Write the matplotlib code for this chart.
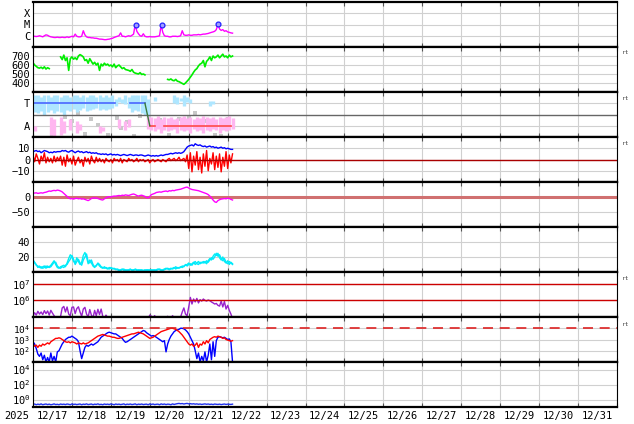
import numpy as np
import matplotlib
matplotlib.use("Agg")
import matplotlib.pyplot as plt
import matplotlib.dates as mdates
import matplotlib.transforms as mtransforms
from datetime import datetime

plt.rcParams['font.family'] = 'DejaVu Sans Mono'
plt.rcParams['mathtext.fontset'] = 'custom'
plt.rcParams['mathtext.rm'] = 'DejaVu Sans Mono'
plt.rcParams['mathtext.it'] = 'DejaVu Sans Mono'
plt.rcParams['mathtext.bf'] = 'DejaVu Sans Mono'

# hourly samples starting 2025-12-16 00:00
n_hours = 124
nan = np.nan

# X-ray flux, units of 1e-7 W/m2
xray = [9, 9, 8.5, 9, 10, 9, 8, 10, 12, 11, 9,
        8, 7.5, 7, 7, 7.5, 7, 7, 7.5, 7, 7, 8, 7,
        8, 9, 8, 14, 9, 8, 8, 9, 28, 12,
        8, 7, 7, 6.5, 6.5, 6, 6, 5.5,
        5, 5, 4.8, 4.5, 4.5, 4.8, 5, 5.5, 6, 7,
        8, 9, 10, 18, 9, 9, 8, 9, 10, 9, 11, 14, 100, 25,
        15, 10, 9, 15, 9, 8, 8, 8.5, 8, 8, 8, 8.5, 9, 10, 95, 20,
        10, 9, 9, 8, 8, 9, 9, 9, 8.5, 9, 10, 28, 12,
        11, 11, 12, 11, 11, 12, 12, 12, 13, 12, 13, 14, 14, 15, 16,
        18, 20, 22, 25, 35, 110, 40, 30, 35, 25, 28, 22, 20, 18, 17]
flare_hours = [63.5, 79.5, 114]
flare_flux = [1.0e-5, 1.0e-5, 1.1e-5]

# solar wind speed km/s
speed = [625, 600, 585, 570, 565, 575, 560, 580, 555, 570, 560,
         nan, nan, nan, nan, nan, nan,
         690, 660, 710, 650, 680, 540, 670, 690, 665, 680, 660, 700,
         715, 705, 690, 650, 660, 620, 670, 640, 610,
         630, 600, 620, 540, 610, 590, 620, 600, 610, 590,
         600, 580, 610, 570, 590, 600, 580, 560, 570, 550,
         545, 540, 530, 550, 520, 510, 505, 500, 515, 495, 500, 490,
         nan, nan, nan, nan, nan, nan, nan, nan, nan, nan, nan, nan, nan,
         440, 435, 445, 430, 425, 440, 420, 415, 405, 395, 385,
         400, 420, 440, 465, 490, 520, 545, 560, 590, 610,
         620, 650, 580, 640, 660, 690, 650, 700, 680,
         690, 710, 680, 700, 720, 690, 700, 680, 710, 690, 700]

# sector panel, 2-hour bins; T = +0.5, A = -0.5
blue_top = [.85, .85, .8, .85, .85, .8, .85, .85, .8, .85,
            .85, .8, .85, .85, .8, .85, .8, .85, .85, .8, .85, .8,
            .85, .8, .85, .7, .8, .7, .85, .8, .85, .85, .85, .85, .85, .7,
            nan, .8, nan, nan, nan, nan, nan,
            .85, .8, .75, .85, .8, .7, nan, nan, nan, nan, nan, .6, .6,
            nan, nan, nan, nan, nan, nan]
blue_bot = [.1, .05, .15, 0, .1, .2, .05, .15, .1, 0,
            .2, .15, .25, .1, .2, .3, .15, .2, .25, .3, .2, .25,
            .2, .25, .3, .4, .55, .5, .45, .3, .1, .2, .15, .05, 0, -.2,
            nan, .6, nan, nan, nan, nan, nan,
            .5, .45, .6, .4, .55, .5, nan, nan, nan, nan, nan, .4, .45,
            nan, nan, nan, nan, nan, nan]
pink_top = [-.5, nan, nan, nan, nan,
            -.1, -.2, nan, -.1, -.3, nan, -.2, nan, -.3,
            -.4, nan, nan, nan, nan, nan, -.5, -.55, nan, nan, nan, nan,
            -.2, nan, -.3, -.2, nan, nan, nan, nan, nan, -.05,
            -.1, -.15, -.05, -.2, -.1, -.15, -.1, -.2, -.15, -.1, -.05, -.15, -.1,
            -.2, -.1, -.15, -.05, -.1, -.15, -.1, -.2, -.1, -.15, -.1, -.05, -.15]
pink_bot = [-.75, nan, nan, nan, nan,
            -.9, -.95, nan, -.9, -.8, nan, -.7, nan, -.8,
            -.7, nan, nan, nan, nan, nan, -.8, -.75, nan, nan, nan, nan,
            -.6, nan, -.7, -.55, nan, nan, nan, nan, nan, -.65,
            -.7, -.75, -.65, -.8, -.7, -.75, -.7, -.65, -.8, -.7, -.75, -.7, -.8,
            -.65, -.75, -.7, -.8, -.7, -.75, -.65, -.7, -.8, -.7, -.75, -.7, -.65]
gray_h = [12, 20, 24, 28, 32, 36, 40, 46, 52, 54, 58, 62, 66, 70, 72, 78, 84,
          90, 96, 100, 106, 112, 116, 120]
gray_v = [-.92, -.1, -.3, .05, -.85, -.2, -.45, -.9, -.15, -.6, -.35, -.95, -.05,
          .1, -.5, -.25, -.92, -.2, -.1, .05, -.3, -.9, -.95, -.2]
toward_spans = [(0, 50.5), (59.5, 69)]
away_spans = [(72, 75.5), (81, 122)]
flip_span = (69, 72)

# IMF Bt / Bz nT
bt = [7, 7.5, 8, 7, 7.5, 6, 7, 8, 7.5, 7, 6,
      6.5, 6, 7, 6.5, 7, 7,
      7, 8, 7.5, 8, 7, 6.5, 7.5, 8, 7, 6, 7, 7.5, 6.5, 7, 6, 6.5, 7, 6, 6.5, 5.5, 6, 5.5, 6, 5,
      5, 4.5, 5, 4.5, 5, 4, 4.5, 5, 4, 4.5, 4, 4.5, 4, 3.5, 4, 4.5, 4, 3.5, 4, 4.5, 4, 3.5, 4, 4, 3.5, 4,
      4, 3.5, 3, 3.5, 4, 3.5, 3, 3.5, 3, 3.5, 3, 3.5, 4, 3.5, 4, 4.5,
      4.5, 5, 5.5, 5, 5.5, 6, 5.5, 6, 5.5, 6, 7, 9,
      11, 12, 12.5, 13, 12, 14, 13, 12.5, 13, 12, 11.5, 12, 11, 11.5, 12, 11, 11.5, 10.5,
      11, 10, 10.5, 11, 10, 10.5, 9.5, 10, 9.5, 9, 9]
bz = [4, -2, 5, 1, -4, 3, -1, 6, -3, 2, -2,
      1, -3, 3, -2, 2, -1,
      3, -5, 2, -6, 4, -2, 1, -4, 3, -5, -1, 2, -3, 0, -6, 2, -2, 1, -4, 3, -1, -3, 2, -2,
      1, -2, 0, -3, 1, -1, -2, 0, -3, 1, -1, 0, -2, 1, -3, 0, -1, -2, 1, -1, 0, -2, -1, 1, -2, 0,
      -1, 0, -2, -1, 0, -3, -1, 0, -2, -1, 0, -1, -2, 0, -1, -2,
      0, 1, -1, 0, 1, -1, 0, 2, -1, 0, 1, -2,
      4, -8, 6, -11, 3, -5, 7, -9, 2, -12, 5, -6, 8, -10, 1, -4, 6, -9,
      3, -7, 5, -11, 2, -6, 7, -8, 4, -3, 5]

# Dst nT
dst = [14, 13, 14, 12, 13, 14, 13, 15,
       16, 18, 20, 19, 21, 22, 21, 23,
       22, 20, 17, 12, 7, 2, -3, -6, -5, -7,
       -5, -4, -6, -5, -7, -6, -8, -10, -12, -9, -5, -3, -4,
       -3, -5, -7, -9, -10, -6, -3, 0, 1, 0, 2, 3,
       3, 4, 5, 4, 6, 5, 7, 6, 5, 7, 9, 10, 8, 5,
       3, 5, 6, 4, 2, -2, -3, 2,
       8, 10, 12, 15, 16, 17, 16, 18,
       19, 20, 18, 21, 20, 22, 21, 23, 24, 25,
       26, 28, 30, 32, 33, 30, 27, 25, 24, 23,
       22, 21, 19, 17, 15, 13, 11, 8, 3, -3, -10, -16, -18,
       -12, -9, -7, -6, -5, -6, -4, -5, -8, -10]

# two cyan traces
cyan_a = [17, 12, 9, 8, 6, 7, 5, 6, 8, 6, 7,
          9, 12, 15, 10, 6, 5, 7, 8, 9, 7, 12, 18,
          23, 20, 14, 12, 19, 14, 10, 13, 22, 26, 20,
          11, 16, 12, 8, 6, 9, 11,
          8, 6, 5, 7, 5, 4, 6, 5, 4, 5,
          3, 4, 3, 2, 3, 4, 2, 3, 2, 3, 3, 2, 4, 3, 2, 3, 2, 2, 3, 2,
          2, 3, 2, 3, 2, 3, 4, 3, 2, 3, 4, 5, 4, 3, 4,
          5, 6, 4, 6, 5, 7, 6, 8, 9, 10,
          12, 9, 11, 13, 10, 12, 14, 11, 13, 12,
          14, 11, 15, 18, 16, 21, 24, 22,
          25, 19, 16, 20, 14, 12, 15, 10, 13, 11]
cyan_b = [15, 13, 10, 6, 8, 5, 7, 8, 5, 8, 6,
          7, 10, 13, 13, 8, 6, 5, 7, 6, 9, 10, 14,
          17, 22, 17, 10, 14, 17, 12, 9, 16, 20, 24,
          14, 12, 16, 10, 7, 8, 12,
          10, 7, 6, 5, 6, 5, 4, 6, 5, 4,
          4, 3, 2, 3, 4, 2, 3, 2, 3, 4, 2, 3, 3, 2, 3, 2, 3, 2, 2, 3,
          3, 2, 3, 2, 3, 2, 3, 4, 3, 2, 3, 4, 5, 4, 5,
          4, 5, 7, 5, 6, 6, 8, 7, 10, 8,
          10, 11, 9, 12, 14, 11, 10, 13, 12, 14,
          12, 15, 13, 16, 19, 17, 20, 25,
          21, 23, 18, 15, 18, 13, 11, 14, 12, 10]

# electron flux, units of 1e5
electron = [1.2, 1.8, 1.3, 2.2, 1.5, 2.0, 1.4, 2.4, 1.6, 2.3, 1.3, 2.5, 1.7, 1.2,
            0.8, 1.0, 0.9,
            1.1, 3.5, 4.3, 2.0, 4.0, 1.5, 1.2,
            3.8, 4.0, 1.6, 3.2, 4.1, 2.0, 1.1, 3.0, 3.8,
            1.5, 1.0, 2.8, 1.3, 0.9, 2.5, 1.2, 2.9,
            1.4, 3.0, 1.1, 0.8, 1.3, 0.9, 0.7, 0.6,
            0.6, 0.5, 0.6, 0.7, 0.5, 0.6, 0.8, 0.6, 0.5, 0.6, 0.7,
            0.6, 0.5, 0.6, 0.7, 0.6, 0.5, 0.6, 0.7, 0.6, 0.5, 0.6,
            0.8, 1.3, 1.1, 0.9, 1.2, 0.8, 0.7, 0.8, 0.6, 0.7,
            0.8, 0.9, 1.1, 0.8, 0.7, 1.2, 0.9, 0.8, 0.9, 0.8,
            1.0, 2.0, 3.5, 1.5, 1.2, 4.0,
            15, 6, 12, 8, 13, 7, 11, 9, 12,
            10, 9, 10.5, 9.5, 8, 7, 6, 6.5, 5, 4.5,
            9, 4, 8.5, 3, 5, 2.5, 1.5, 0.8]

# proton flux, log10
proton_blue = [2.8, 2.6, 2.2, 1.7, 1.5,
               1.8, 1.2, 1.6, 1.0, 1.4, 1.0, 1.8, 1.1, 1.5, 1.0, 1.9,
               2.0, 2.3, 2.6, 2.8, 3.0, 3.1, 3.2,
               3.2, 3.3, 3.2, 3.1, 3.0, 2.8, 2.0, 1.3,
               1.8, 2.3, 2.5, 2.4, 2.5, 2.6,
               2.5, 2.6, 2.7, 2.8, 3.0, 3.2, 3.3,
               3.4, 3.5, 3.6, 3.65, 3.6, 3.55, 3.5,
               3.5, 3.4, 3.3, 3.2, 3.1, 2.9, 2.75,
               2.8, 2.9, 3.0, 3.1, 3.2, 3.3, 3.4,
               3.5, 3.6, 3.7, 3.8, 3.75, 3.6, 3.5, 3.4,
               3.3, 3.35, 3.3, 3.2, 3.1, 3.0, 2.9, 2.8, 2.9,
               1.9, 2.6, 3.0,
               3.3, 3.5, 3.7, 3.8, 3.85, 3.9, 4.0, 4.0,
               3.95, 3.85, 3.7, 3.5, 3.2, 2.9, 2.6,
               2.0, 1.3, 1.8, 1.0, 1.5, 1.1, 1.9, 1.0, 1.6,
               2.6, 1.2, 2.8, 1.5, 2.9,
               3.2, 3.25, 3.2, 3.15, 3.2, 3.1, 3.0, 3.05, 2.8,
               1.0]
proton_red = [2.6, 2.4, 2.5, 2.3, 2.5, 2.4, 2.6, 2.5, 2.6, 2.7, 2.6,
              2.8, 2.9, 3.0, 3.1, 3.1, 3.15,
              3.1, 3.0, 2.9, 2.8, 2.75, 2.8,
              2.7, 2.8, 2.75, 2.7, 2.6, 2.7, 2.65, 2.6,
              2.7, 2.6, 2.65, 2.7, 2.8, 2.9,
              3.0, 3.1, 3.2, 3.3, 3.35, 3.4, 3.45,
              3.4, 3.35, 3.3, 3.3, 3.25, 3.2, 3.2,
              3.15, 3.1, 3.1, 3.15, 3.2, 3.25, 3.3,
              3.35, 3.4, 3.45, 3.5, 3.5, 3.55, 3.6,
              3.65, 3.6, 3.55, 3.5, 3.4, 3.3, 3.2, 3.1,
              3.15, 3.2, 3.3, 3.4, 3.5, 3.6, 3.7, 3.75, 3.8,
              3.85, 3.9, 3.95,
              4.0, 4.0, 3.95, 3.9, 3.8, 3.7, 3.55, 3.4,
              3.2, 3.0, 2.8, 2.6, 2.5, 2.6, 2.4,
              2.5, 2.7, 2.3, 2.6, 2.5, 2.8, 2.6, 2.9, 2.7,
              3.0, 3.1, 3.2, 3.25, 3.2,
              3.3, 3.25, 3.2, 3.1, 3.15, 3.0, 2.95, 2.9, 2.85,
              2.9]

# bottom panel
bottom = [0.22, 0.25, 0.2, 0.24, 0.21, 0.26, 0.2, 0.23, 0.25, 0.21,
          0.24, 0.2, 0.22, 0.26, 0.21, 0.23, 0.2, 0.25, 0.22, 0.24,
          0.21, 0.25, 0.23, 0.2, 0.26, 0.22, 0.24, 0.21, 0.23, 0.25,
          0.2, 0.24, 0.22, 0.26, 0.21, 0.23, 0.25, 0.2, 0.24, 0.22,
          0.26, 0.21, 0.23, 0.2, 0.25, 0.22, 0.24, 0.21, 0.26, 0.23,
          0.2, 0.25, 0.22, 0.24, 0.21, 0.23, 0.26, 0.2, 0.24, 0.22,
          0.25, 0.21, 0.23, 0.26, 0.2, 0.24, 0.22, 0.25, 0.21, 0.23,
          0.24, 0.2, 0.26, 0.22, 0.25, 0.21, 0.23, 0.24, 0.2, 0.26,
          0.22, 0.25, 0.21, 0.24, 0.23, 0.2, 0.26, 0.22, 0.25, 0.28,
          0.3, 0.27, 0.29, 0.25, 0.28, 0.3, 0.26, 0.28, 0.25, 0.27,
          0.24, 0.26, 0.23, 0.25, 0.22, 0.24, 0.26, 0.23, 0.25, 0.22,
          0.24, 0.21, 0.25, 0.23, 0.22, 0.24, 0.21, 0.23, 0.25, 0.22,
          0.24, 0.23, 0.22, 0.24]

day_labels = ['2025'] + ['12/%d' % d for d in range(17, 32)]

t0 = mdates.date2num(datetime(2025, 12, 16))
t = t0 + np.arange(n_hours) / 24.0
t2 = t0 + (np.arange(62) * 2 + 1) / 24.0

fig, axes = plt.subplots(9, 1, sharex=True, figsize=(6.34, 4.24), dpi=100)
fig.subplots_adjust(left=33/634, right=617/634, top=1-2/424, bottom=1-407/424, hspace=0)

grid_c = '#d0d0d0'
for ax in axes:
    ax.set_xlim(t0, t0 + 15)
    ax.set_xticks(t0 + np.arange(16))
    ax.grid(True, color=grid_c, lw=0.8)
    ax.set_axisbelow(True)
    for s in ['top', 'bottom']:
        ax.spines[s].set_linewidth(1.6)
    for s in ['left', 'right']:
        ax.spines[s].set_linewidth(0.8)
    ax.tick_params(axis='x', direction='in', length=3, top=True, color='#555555', labelbottom=False)
    ax.tick_params(axis='y', length=0, pad=2, labelsize=7.5)
    ax.tick_params(axis='y', which='minor', length=0)

# 1 x-ray
ax = axes[0]
ax.semilogy(t, np.array(xray) * 1e-7, color='#ff00ff', lw=1)
ax.plot(t0 + np.array(flare_hours) / 24, flare_flux, 'o', ms=3.5,
        mfc='#a0a0ff', mec='#2020ff', mew=0.9)
ax.set_ylim(1e-7, 1e-3)
ax.set_yticks([1e-6, 1e-5, 1e-4])
ax.set_yticklabels(['C', 'M', 'X'])
ax.yaxis.set_minor_locator(matplotlib.ticker.NullLocator())

# 2 speed
ax = axes[1]
ax.plot(t, speed, color='#00ee00', lw=1.2)
ax.set_ylim(300, 800)
ax.set_yticks([400, 500, 600, 700])

# 3 sector
ax = axes[2]
ax.vlines(t2, blue_bot, blue_top, color='#aee6ff', lw=2.4)
ax.vlines(t2, pink_bot, pink_top, color='#ffb6f0', lw=2.4)
ax.scatter(t0 + np.array(gray_h) / 24, gray_v, s=5, marker='s', color='#c8c8c8', lw=0)
ax.axhline(0, color='#666666', lw=1)
for a, b in toward_spans:
    ax.plot([t0 + a / 24, t0 + b / 24], [0.5, 0.5], color='#4a66ff', lw=1.2)
for a, b in away_spans:
    ax.plot([t0 + a / 24, t0 + b / 24], [-0.5, -0.5], color='#ff4a4a', lw=1.2)
ax.plot([t0 + flip_span[0] / 24, t0 + flip_span[1] / 24], [0.5, -0.5], color='#3a7a3a', lw=1)
ax.set_ylim(-1, 1)
ax.set_yticks([0.5, -0.5])
ax.set_yticklabels(['T', 'A'])

# 4 IMF
ax = axes[3]
ax.plot(t, bt, color='#0000ff', lw=1)
ax.plot(t, bz, color='#ff0000', lw=1)
ax.axhline(0, color='#aa0000', lw=1)
ax.set_ylim(-20, 20)
ax.set_yticks([10, 0, -10])

# 5 Dst
ax = axes[4]
ax.axhline(0, color='#d07070', lw=2.2)
ax.plot(t, dst, color='#ff00ff', lw=1)
ax.set_ylim(-100, 50)
ax.set_yticks([0, -50])

# 6 cyan
ax = axes[5]
ax.plot(t, cyan_a, color='#00f0f0', lw=1)
ax.plot(t, cyan_b, color='#00e8ff', lw=1)
ax.set_ylim(0, 60)
ax.set_yticks([20, 40])

# 7 electrons
ax = axes[6]
ax.semilogy(t, np.array(electron) * 1e5, color='#9922cc', lw=1)
ax.axhline(1e6, color='#cc0000', lw=1)
ax.axhline(1e7, color='#cc0000', lw=1)
ax.set_ylim(1e5, 5e7)
ax.set_yticks([1e6, 1e7])
ax.set_yticklabels([r'$10^6$', r'$10^7$'])
ax.yaxis.set_minor_locator(matplotlib.ticker.NullLocator())

# 8 protons
ax = axes[7]
ax.semilogy(t, 10 ** np.array(proton_blue), color='#0000ff', lw=1)
ax.semilogy(t, 10 ** np.array(proton_red), color='#ff0000', lw=1)
ax.axhline(1e4, color='#dd2222', lw=1.2, dashes=(6, 4))
ax.set_ylim(10, 1e5)
ax.set_yticks([1e2, 1e3, 1e4])
ax.set_yticklabels([r'$10^2$', r'$10^3$', r'$10^4$'])
ax.tick_params(axis='y', labelsize=6.8)
ax.yaxis.set_minor_locator(matplotlib.ticker.NullLocator())

# 9 bottom
ax = axes[8]
ax.semilogy(t, bottom, color='#2233ee', lw=1)
ax.set_ylim(0.1, 1e5)
ax.set_yticks([1e0, 1e2, 1e4])
ax.set_yticklabels([r'$10^0$', r'$10^2$', r'$10^4$'])
ax.yaxis.set_minor_locator(matplotlib.ticker.NullLocator())
ax.tick_params(axis='x', labelbottom=True, labelsize=7.5, pad=3)
ax.set_xticklabels(day_labels)
offset = mtransforms.ScaledTranslation(-3 / 72, 0, fig.dpi_scale_trans)
for lab in ax.get_xticklabels():
    lab.set_horizontalalignment('right')
    lab.set_transform(lab.get_transform() + offset)

for ypx in [53, 99, 144, 279, 324]:
    fig.text(622 / 634, 1 - ypx / 424, 'rt', fontsize=4.5, color='#444444', va='center')

fig.savefig('out.png', dpi=100)
